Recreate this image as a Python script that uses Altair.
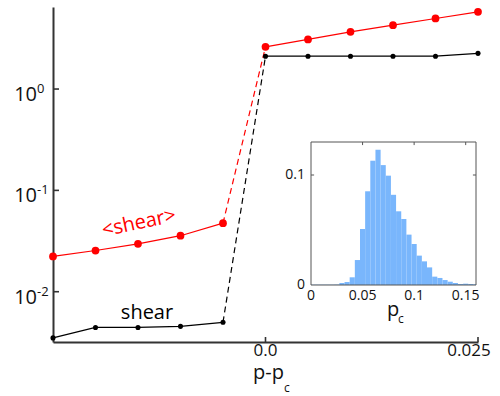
import altair as alt
import pandas as pd

# ---- main panel: shear vs distance from the critical point ----
p_offset = [-0.025, -0.02, -0.015, -0.01, -0.005, 0.0, 0.005, 0.01, 0.015, 0.02, 0.025]
mean_shear = [0.0223, 0.0255, 0.0297, 0.0357, 0.0475, 2.61, 3.09, 3.67, 4.27, 4.97, 5.78]
shear = [0.0035, 0.00444, 0.00444, 0.00455, 0.00499, 2.11, 2.11, 2.11, 2.11, 2.11, 2.25]
series_names = ["<shear>", "shear"]
series_colors = ["#ff0000", "#000000"]

y_tick_values = [1.0, 0.1, 0.01]
y_tick_exponents = ["0", "-1", "-2"]
x_tick_values = [0.0, 0.025]
x_tick_labels = ["0.0", "0.025"]

# ---- inset: distribution of p_c ----
pc_centers = [0.0, 0.005, 0.01, 0.015, 0.02, 0.025, 0.03, 0.035, 0.04, 0.045, 0.05,
              0.055, 0.06, 0.065, 0.07, 0.075, 0.08, 0.085, 0.09, 0.095, 0.1, 0.105,
              0.11, 0.115, 0.12, 0.125, 0.13, 0.135, 0.14, 0.145, 0.15, 0.155, 0.16]
pc_freq = [0.0003, 0.0003, 0.0003, 0.0003, 0.0003, 0.0004, 0.0018, 0.0027, 0.007, 0.0227,
           0.0509, 0.0852, 0.113, 0.123, 0.109, 0.0994, 0.082, 0.067, 0.060, 0.0458,
           0.0373, 0.0267, 0.0215, 0.016, 0.0076, 0.0064, 0.0045, 0.003, 0.0018, 0.0009,
           0.0012, 0.0009, 0.0006]
inset_x_ticks = [0.0, 0.05, 0.1, 0.15]
inset_x_labels = ["0", "0.05", "0.1", "0.15"]

FONT = "Open Sans"
AX = "#333333"
W, H = 425, 335

# ---------- tables ----------
pts, segs = [], []
for name, vals in zip(series_names, [mean_shear, shear]):
    for i, (x, y) in enumerate(zip(p_offset, vals)):
        pts.append({"series": name, "x": x, "y": y})
        part = "below" if x < 0 else "above"
        segs.append({"series": name, "x": x, "y": y, "part": part, "grp": name + part})
    # jump across the transition
    for i in (4, 5):
        segs.append({"series": name, "x": p_offset[i], "y": vals[i], "part": "jump",
                     "grp": name + "jump"})
pts = pd.DataFrame(pts)
segs = pd.DataFrame(segs)

xs = alt.Scale(domain=[-0.025, 0.025], nice=False, zero=False)
ys = alt.Scale(type="log", domain=[0.00319, 6.45], nice=False)
cs = alt.Scale(domain=series_names, range=series_colors)

X = alt.X("x:Q", scale=xs, title=None)
Y = alt.Y("y:Q", scale=ys, title=None)

solid = alt.Chart(segs).transform_filter("datum.part != 'jump'").mark_line(
    strokeWidth=1.2).encode(x=X, y=Y, detail="grp:N",
                            color=alt.Color("series:N", scale=cs, legend=None))
dashed = alt.Chart(segs).transform_filter("datum.part == 'jump'").mark_line(
    strokeWidth=1.2, strokeDash=[6, 4]).encode(
    x=X, y=Y, detail="grp:N", color=alt.Color("series:N", scale=cs, legend=None))
dots = alt.Chart(pts).mark_circle(opacity=1).encode(
    x=X, y=Y,
    color=alt.Color("series:N", scale=cs, legend=None),
    size=alt.Size("series:N", scale=alt.Scale(domain=series_names, range=[60, 26]),
                  legend=None))

ytick_df = pd.DataFrame({"y": y_tick_values, "e": y_tick_exponents, "b": ["10"] * 3})
ytick_marks = alt.Chart(ytick_df).mark_rule(color=AX, strokeWidth=1.6).encode(
    y=Y, x=alt.value(0), x2=alt.value(6))
ytick_base = alt.Chart(ytick_df).mark_text(
    font=FONT, fontSize=20, align="right", baseline="alphabetic", dy=12, color="#111"
).encode(y=Y, x=alt.value(-16), text="b:N")
ytick_exp = alt.Chart(ytick_df).mark_text(
    font=FONT, fontSize=13, align="left", baseline="alphabetic", dy=4, color="#111"
).encode(y=Y, x=alt.value(-16), text="e:N")

xtick_df = pd.DataFrame({"x": x_tick_values, "t": x_tick_labels})
xtick_marks = alt.Chart(xtick_df).mark_rule(color=AX, strokeWidth=1.6).encode(
    x=X, y=alt.value(H), y2=alt.value(H - 5))
xlab0 = alt.Chart(xtick_df).transform_filter("datum.x == 0").mark_text(
    font=FONT, fontSize=17, align="center", baseline="alphabetic", color="#111"
).encode(x=X, y=alt.value(H + 14), text="t:N")
xlab1 = alt.Chart(xtick_df).transform_filter("datum.x > 0").mark_text(
    font=FONT, fontSize=17, align="center", baseline="alphabetic", dx=-9, color="#111"
).encode(x=X, y=alt.value(H + 14), text="t:N")

xtitle = alt.Chart(pd.DataFrame({"t": ["p-p"]})).mark_text(
    font=FONT, fontSize=20, align="left", baseline="alphabetic", color="#111"
).encode(text="t:N", x=alt.value(200), y=alt.value(372))
xtitle_sub = alt.Chart(pd.DataFrame({"t": ["c"]})).mark_text(
    font=FONT, fontSize=12, align="left", baseline="alphabetic", color="#111"
).encode(text="t:N", x=alt.value(231), y=alt.value(385))

lab_mean = alt.Chart(pd.DataFrame({"t": ["<shear>"]})).mark_text(
    font=FONT, fontSize=20, align="center", baseline="middle", angle=348, color="#ff0000"
).encode(text="t:N", x=alt.value(86), y=alt.value(216))
lab_shear = alt.Chart(pd.DataFrame({"t": ["shear"]})).mark_text(
    font=FONT, fontSize=20, align="center", baseline="alphabetic", color="#000"
).encode(text="t:N", x=alt.value(94), y=alt.value(312))

main = alt.layer(solid, dashed, dots, ytick_marks, ytick_base, ytick_exp,
                 xtick_marks, xlab0, xlab1, xtitle, xtitle_sub, lab_mean, lab_shear)

# ---------- inset ----------
hist = pd.DataFrame({"c": pc_centers, "f": pc_freq})
ixs = alt.Scale(domain=[0, 0.16], range=[258, 423], clamp=True, nice=False, zero=False)
iys = alt.Scale(domain=[0, 0.13], range=[278, 135], clamp=True, nice=False)
IFR = "#555555"

bars = alt.Chart(hist).transform_calculate(
    lo="datum.c - 0.0025", hi="datum.c + 0.0025"
).mark_rect(color="#79b6fc").encode(
    x=alt.X("lo:Q", scale=ixs, axis=None), x2="hi:Q",
    y=alt.Y("f:Q", scale=iys, axis=None), y2=alt.Y2(datum=0))

frame_df = pd.DataFrame({"x0": [0.0], "x1": [0.16], "y0": [0.0], "y1": [0.13]})
frame = alt.Chart(frame_df).mark_rect(fillOpacity=0, stroke=IFR, strokeWidth=1).encode(
    x=alt.X("x0:Q", scale=ixs, axis=None), x2="x1:Q",
    y=alt.Y("y0:Q", scale=iys, axis=None), y2="y1:Q")

itick_df = pd.DataFrame({"x": inset_x_ticks, "t": inset_x_labels})
top_ticks = alt.Chart(itick_df).transform_filter("datum.x > 0").mark_rule(
    color=IFR, strokeWidth=1).encode(
    x=alt.X("x:Q", scale=ixs, axis=None),
    y=alt.Y(datum=0.13, scale=iys, axis=None), y2=alt.Y2(datum=0.1272))
side_df = pd.DataFrame({"a": [0.0, 0.16], "b": [0.003, 0.157], "y": [0.1, 0.1]})
side_ticks = alt.Chart(side_df).mark_rule(color=IFR, strokeWidth=1).encode(
    x=alt.X("a:Q", scale=ixs, axis=None), x2="b:Q",
    y=alt.Y("y:Q", scale=iys, axis=None))
ix_labels = alt.Chart(itick_df).mark_text(
    font=FONT, fontSize=14, align="center", baseline="alphabetic", color="#111"
).encode(x=alt.X("x:Q", scale=ixs, axis=None), y=alt.value(293), text="t:N")
iy_df = pd.DataFrame({"y": [0.1, 0.0], "t": ["0.1", "0"]})
iy_labels = alt.Chart(iy_df).mark_text(
    font=FONT, fontSize=14, align="right", baseline="middle", color="#111"
).encode(y=alt.Y("y:Q", scale=iys, axis=None), x=alt.value(252), text="t:N")
ititle = alt.Chart(pd.DataFrame({"t": ["p"]})).mark_text(
    font=FONT, fontSize=20, align="left", baseline="alphabetic", color="#111"
).encode(text="t:N", x=alt.value(334), y=alt.value(309))
ititle_sub = alt.Chart(pd.DataFrame({"t": ["c"]})).mark_text(
    font=FONT, fontSize=12, align="left", baseline="alphabetic", color="#111"
).encode(text="t:N", x=alt.value(345), y=alt.value(316))

inset = alt.layer(bars, frame, top_ticks, side_ticks, ix_labels, iy_labels,
                  ititle, ititle_sub)

chart = alt.layer(main, inset).resolve_scale(
    x="independent", y="independent"
).properties(
    width=W, height=H,
    padding={"left": 53, "top": 7, "right": 22, "bottom": 54},
    autosize=alt.AutoSizeParams(type="none"),
    background="white",
).configure_view(stroke=None).configure_axis(
    labels=False, ticks=False, grid=False, title=None,
    domainColor=AX, domainWidth=2,
)

chart.save("out.html", embed_options={"renderer": "svg", "actions": False})
